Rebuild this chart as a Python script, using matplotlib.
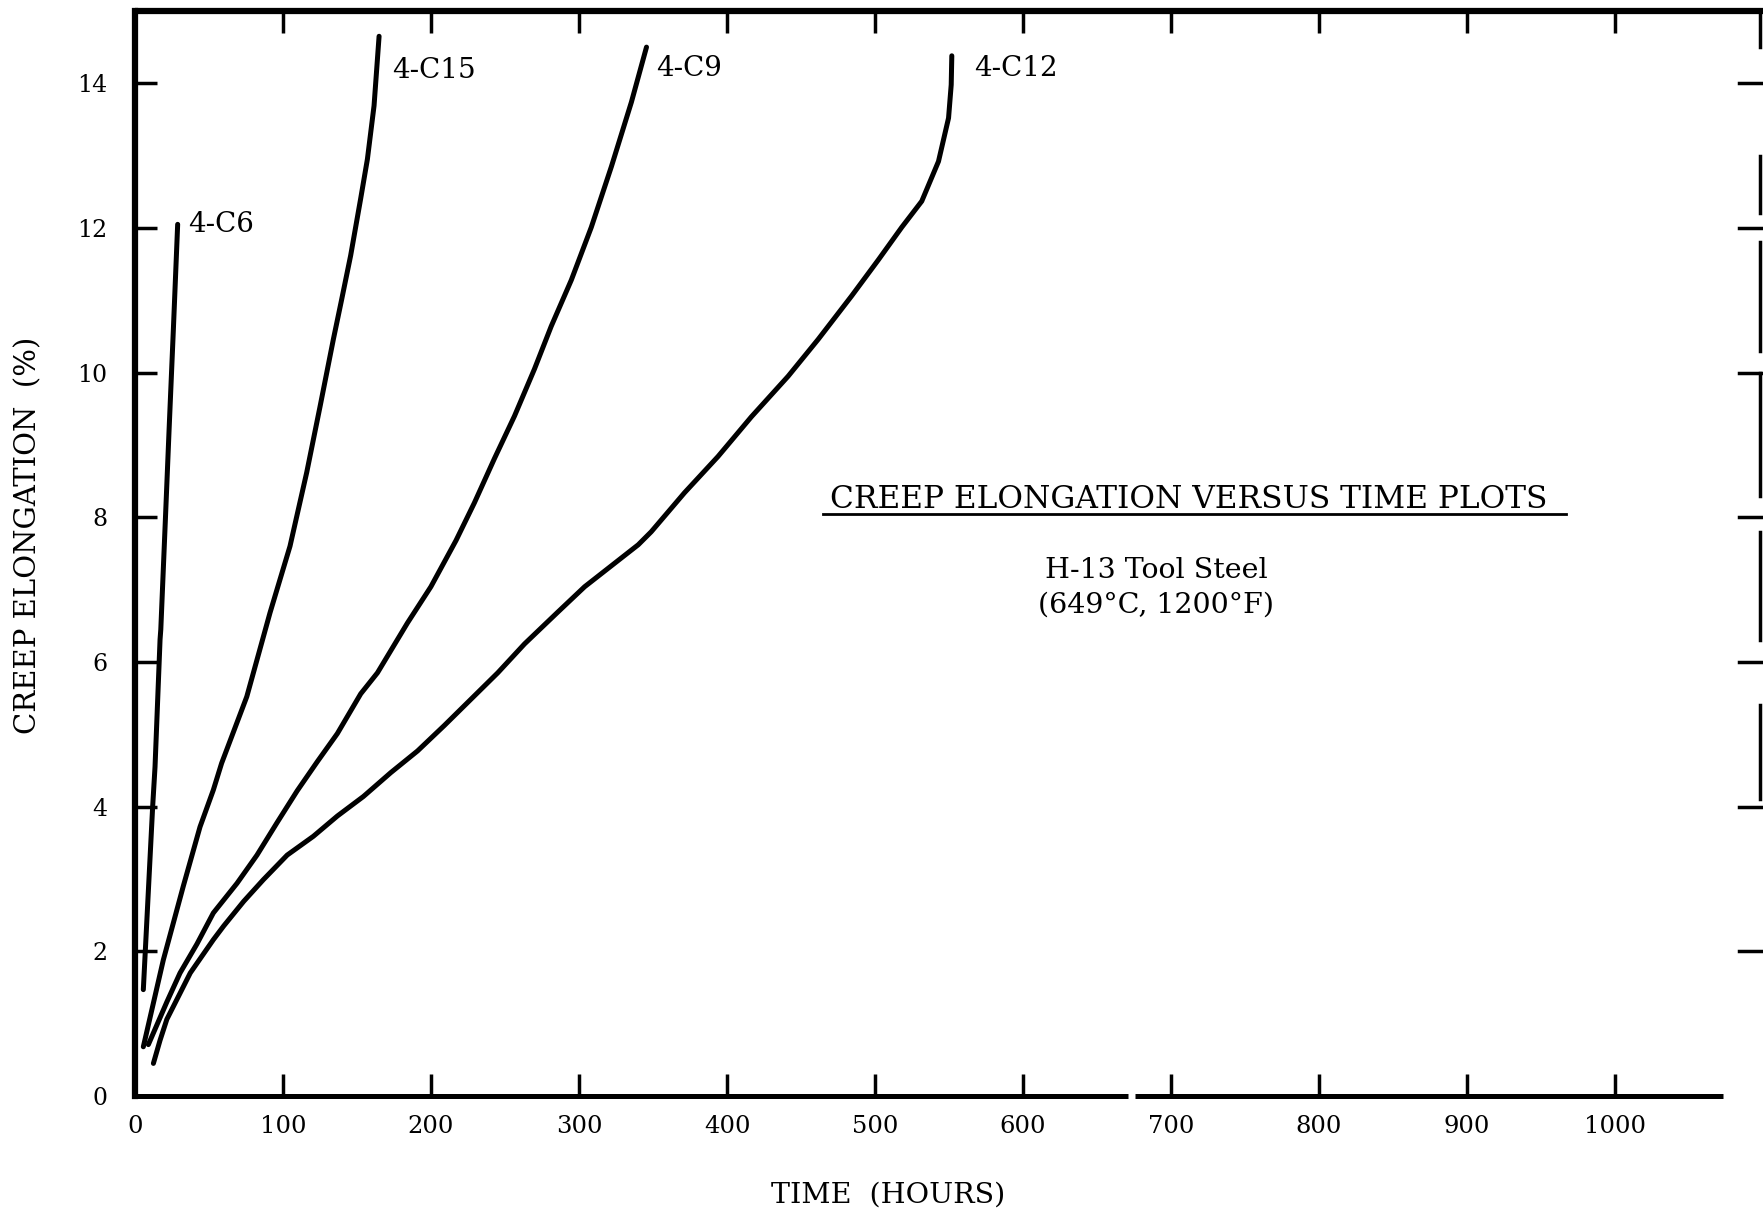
import matplotlib.pyplot as plt

plt.rcParams['font.family'] = ['DejaVu Serif']

# creep elongation (%) against time (hours) for each specimen
c6_hours = [5.6, 11.9, 13.5, 16.9, 17.4, 20.5, 23.0, 25.9, 28.8]
c6_elong = [1.47, 4.0, 4.55, 6.31, 6.45, 7.97, 9.21, 10.6, 12.05]

c15_hours = [5.6, 19.1, 32.6, 43.9, 52.9, 58.5, 75.5, 91.2, 104.7, 116.0,
             125.0, 134.0, 139.5, 145.7, 152.5, 157.0, 161.5, 164.9]
c15_elong = [0.68, 1.88, 2.90, 3.72, 4.23, 4.6, 5.52, 6.68, 7.60, 8.62,
             9.53, 10.46, 11.0, 11.62, 12.41, 12.95, 13.69, 14.65]

c9_hours = [9.0, 21.5, 30.4, 41.8, 52.9, 68.9, 82.4, 96.0, 109.6, 123.1,
            136.7, 152.5, 163.8, 184.1, 199.9, 216.9, 229.3, 242.8, 256.4,
            269.9, 281.2, 294.8, 308.3, 321.9, 335.4, 345.6]
c9_elong = [0.71, 1.3, 1.70, 2.1, 2.53, 2.94, 3.33, 3.78, 4.22, 4.62,
            5.01, 5.56, 5.85, 6.54, 7.04, 7.68, 8.2, 8.81, 9.40,
            10.05, 10.64, 11.28, 12.01, 12.85, 13.74, 14.5]

c12_hours = [12.4, 16.9, 21.5, 30.4, 37.3, 52.9, 59.9, 73.4, 86.7, 102.8,
             120.5, 136.7, 154.3, 172.8, 190.9, 208.9, 245.1, 263.2, 285.7,
             303.8, 321.9, 340.0, 348.8, 371.3, 393.9, 416.5, 441.3, 461.6,
             484.2, 502.3, 518.1, 531.6, 542.9, 549.7, 551.5, 551.9]
c12_elong = [0.45, 0.77, 1.06, 1.42, 1.70, 2.16, 2.35, 2.69, 2.99, 3.33,
             3.59, 3.87, 4.14, 4.47, 4.77, 5.12, 5.85, 6.25, 6.69,
             7.04, 7.33, 7.62, 7.80, 8.34, 8.84, 9.39, 9.95, 10.46,
             11.06, 11.56, 12.01, 12.37, 12.92, 13.52, 13.98, 14.38]

curve_names = ["4-C6", "4-C15", "4-C9", "4-C12"]
label_xy = [(36, 12.05), (174, 14.18), (352, 14.21), (567, 14.21)]

x_ticks = [0, 100, 200, 300, 400, 500, 600, 700, 800, 900, 1000]
y_ticks = [0, 2, 4, 6, 8, 10, 12, 14]

fig = plt.figure(figsize=(17.63, 12.18), dpi=100)
ax = fig.add_axes([0.0766, 0.1002, 0.9007, 0.8908])
ax.set_xlim(0, 1073)
ax.set_ylim(0, 15)

for hrs, el in [(c6_hours, c6_elong), (c15_hours, c15_elong),
                (c9_hours, c9_elong), (c12_hours, c12_elong)]:
    ax.plot(hrs, el, color='black', lw=3.6, solid_capstyle='round',
            solid_joinstyle='round')

for name, (lx, ly) in zip(curve_names, label_xy):
    ax.text(lx, ly, name, fontsize=20, ha='left', va='center')

# frame: heavy left and top rules, bottom rule with a small break
for s in ['top', 'right', 'bottom']:
    ax.spines[s].set_visible(False)
ax.spines['left'].set_linewidth(4.5)
ax.plot([0, 1100], [15, 15], color='black', lw=4.5, clip_on=False,
        solid_capstyle='butt')
ax.plot([0, 671], [0, 0], color='black', lw=3.6, clip_on=False,
        solid_capstyle='butt')
ax.plot([676, 1073], [0, 0], color='black', lw=3.6, clip_on=False,
        solid_capstyle='butt')

# scale marks along the right border
ax.plot([1098, 1098], [14.5, 15.0], color='black', lw=2.5, clip_on=False)
for lo, hi in [(12.2, 13.0), (10.3, 11.8), (8.3, 10.0), (6.3, 7.8), (4.1, 5.4)]:
    ax.plot([1098, 1098], [lo, hi], color='black', lw=2.5, clip_on=False)
for yt in y_ticks[1:]:
    ax.plot([1084, 1100], [yt, yt], color='black', lw=2.5, clip_on=False)

ax.set_xticks(x_ticks)
ax.set_xticklabels([str(v) for v in x_ticks])
ax.set_yticks(y_ticks)
ax.set_yticklabels([str(v) for v in y_ticks])
ax.tick_params(axis='x', direction='in', length=16, width=2.5, top=True,
               labelsize=17.5, pad=14)
ax.tick_params(axis='y', direction='in', length=16, width=2.5,
               labelsize=17, pad=20)
ax.xaxis.get_ticklines()[0].set_visible(False)
ax.xaxis.get_ticklines()[1].set_visible(False)
ax.yaxis.get_ticklines()[0].set_visible(False)

ax.set_xlabel("TIME  (HOURS)", fontsize=20.5, va='center')
ax.xaxis.set_label_coords(0.474, -0.091)
ax.set_ylabel("CREEP ELONGATION  (%)", fontsize=21, va='center')
ax.yaxis.set_label_coords(-0.0674, 0.517)

ax.text(712, 8.24, "CREEP ELONGATION VERSUS TIME PLOTS", fontsize=22.5,
        ha='center', va='center')
ax.plot([465, 967], [8.04, 8.04], color='black', lw=2)
ax.text(690, 7.27, "H-13 Tool Steel", fontsize=20.5, ha='center', va='center')
ax.text(690, 6.79, "(649°C, 1200°F)", fontsize=20.5, ha='center', va='center')

fig.savefig("out.png", dpi=100)
